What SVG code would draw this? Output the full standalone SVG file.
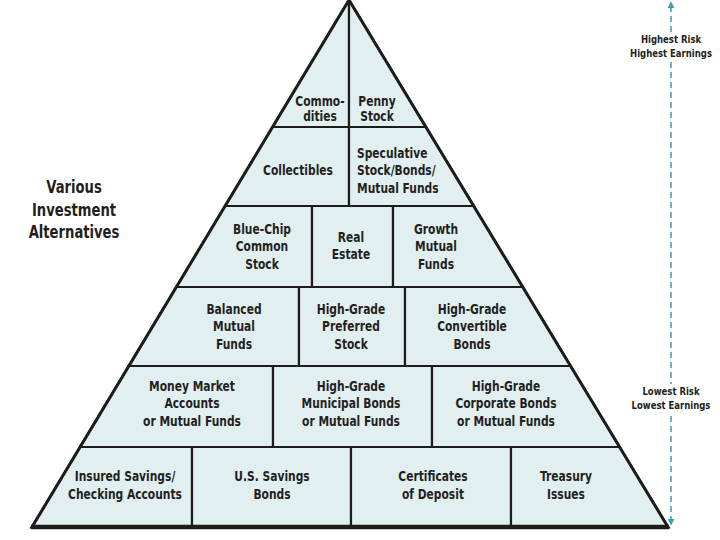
<svg xmlns="http://www.w3.org/2000/svg" width="720" height="540" viewBox="0 0 720 540">
<defs>
<style>
.cell{fill:#e2eff1;stroke:#1c1c1c;stroke-width:2.2;stroke-linejoin:miter}
.t{font-family:"DejaVu Sans Condensed","DejaVu Sans","Liberation Sans",sans-serif;font-stretch:condensed;font-weight:bold;font-size:14px;fill:#231f20;text-anchor:middle}
.big{font-size:17px}
.sm{font-size:11px}
.l{text-anchor:start}
.ax{stroke:#3a9fb4;stroke-width:1.5;stroke-dasharray:6 4;fill:none}
</style>
<marker id="ah" viewBox="0 0 10 10" refX="9" refY="5" markerWidth="7" markerHeight="7" markerUnits="userSpaceOnUse" orient="auto-start-reverse">
<path d="M0,0 L10,5 L0,10 z" fill="#3a9fb4"/>
</marker>
</defs>
<rect width="720" height="540" fill="#ffffff"/>

<g id="n-commodities"><polygon class="cell" points="349,0 272.6,127 349,127"/><g transform="translate(320,0) scale(0.85,1)"><text class="t" x="0" y="106">Commo-</text><text class="t" x="0" y="121">dities</text></g></g>
<g id="n-penny"><polygon class="cell" points="349,0 349,127 425.9,127"/><g transform="translate(377,0) scale(0.85,1)"><text class="t" x="0" y="106">Penny</text><text class="t" x="0" y="121">Stock</text></g></g>

<g id="n-collectibles"><polygon class="cell" points="272.6,127 349,127 349,206 225.1,206"/><g transform="translate(298,0) scale(0.85,1)"><text class="t" x="0" y="175">Collectibles</text></g></g>
<g id="n-speculative"><polygon class="cell" points="349,127 425.9,127 473.7,206 349,206"/><g transform="translate(357,0) scale(0.85,1)"><text class="t l" x="0" y="158">Speculative</text><text class="t l" x="0" y="175.5">Stock/Bonds/</text><text class="t l" x="0" y="193">Mutual Funds</text></g></g>

<g id="n-bluechip"><polygon class="cell" points="225.1,206 312,206 312,287 176.4,287"/><g transform="translate(262,0) scale(0.85,1)"><text class="t" x="0" y="234">Blue-Chip</text><text class="t" x="0" y="251.5">Common</text><text class="t" x="0" y="269">Stock</text></g></g>
<g id="n-realestate"><polygon class="cell" points="312,206 393,206 393,287 312,287"/><g transform="translate(351,0) scale(0.85,1)"><text class="t" x="0" y="242">Real</text><text class="t" x="0" y="259.5">Estate</text></g></g>
<g id="n-growth"><polygon class="cell" points="393,206 473.7,206 522.7,287 393,287"/><g transform="translate(436,0) scale(0.85,1)"><text class="t" x="0" y="234">Growth</text><text class="t" x="0" y="251.5">Mutual</text><text class="t" x="0" y="269">Funds</text></g></g>

<g id="n-balanced"><polygon class="cell" points="176.4,287 299,287 299,366 128.8,366"/><g transform="translate(234,0) scale(0.85,1)"><text class="t" x="0" y="314">Balanced</text><text class="t" x="0" y="331.5">Mutual</text><text class="t" x="0" y="349">Funds</text></g></g>
<g id="n-preferred"><polygon class="cell" points="299,287 405,287 405,366 299,366"/><g transform="translate(351,0) scale(0.85,1)"><text class="t" x="0" y="314">High-Grade</text><text class="t" x="0" y="331.5">Preferred</text><text class="t" x="0" y="349">Stock</text></g></g>
<g id="n-convertible"><polygon class="cell" points="405,287 522.7,287 570.5,366 405,366"/><g transform="translate(472,0) scale(0.85,1)"><text class="t" x="0" y="314">High-Grade</text><text class="t" x="0" y="331.5">Convertible</text><text class="t" x="0" y="349">Bonds</text></g></g>

<g id="n-moneymarket"><polygon class="cell" points="128.8,366 273,366 273,447 80.1,447"/><g transform="translate(192,0) scale(0.85,1)"><text class="t" x="0" y="391">Money Market</text><text class="t" x="0" y="408.5">Accounts</text><text class="t" x="0" y="426">or Mutual Funds</text></g></g>
<g id="n-municipal"><polygon class="cell" points="273,366 432,366 432,447 273,447"/><g transform="translate(351,0) scale(0.85,1)"><text class="t" x="0" y="391">High-Grade</text><text class="t" x="0" y="408.5">Municipal Bonds</text><text class="t" x="0" y="426">or Mutual Funds</text></g></g>
<g id="n-corporate"><polygon class="cell" points="432,366 570.5,366 619.6,447 432,447"/><g transform="translate(506,0) scale(0.85,1)"><text class="t" x="0" y="391">High-Grade</text><text class="t" x="0" y="408.5">Corporate Bonds</text><text class="t" x="0" y="426">or Mutual Funds</text></g></g>

<g id="n-insured"><polygon class="cell" points="80.1,447 192,447 192,527 32,527"/><g transform="translate(125,0) scale(0.85,1)"><text class="t" x="0" y="481">Insured Savings/</text><text class="t" x="0" y="499">Checking Accounts</text></g></g>
<g id="n-savingsbonds"><polygon class="cell" points="192,447 351,447 351,527 192,527"/><g transform="translate(272,0) scale(0.85,1)"><text class="t" x="0" y="481">U.S. Savings</text><text class="t" x="0" y="499">Bonds</text></g></g>
<g id="n-cd"><polygon class="cell" points="351,447 511,447 511,527 351,527"/><g transform="translate(433,0) scale(0.85,1)"><text class="t" x="0" y="481">Certificates</text><text class="t" x="0" y="499">of Deposit</text></g></g>
<g id="n-treasury"><polygon class="cell" points="511,447 619.6,447 668,527 511,527"/><g transform="translate(566,0) scale(0.85,1)"><text class="t" x="0" y="481">Treasury</text><text class="t" x="0" y="499">Issues</text></g></g>

<g id="outline">
<polygon points="349,0 32,527 668,527" fill="none" stroke="#1c1c1c" stroke-width="3" stroke-linejoin="miter" stroke-miterlimit="10"/>
<line x1="31" y1="527" x2="669" y2="527" stroke="#1c1c1c" stroke-width="4.5"/>
</g>

<g id="title" transform="translate(74,0) scale(0.86,1)"><text class="t big" x="0" y="193">Various</text><text class="t big" x="0" y="216">Investment</text><text class="t big" x="0" y="238">Alternatives</text></g>

<g id="connectors">
<line class="ax" x1="671" y1="32" x2="671" y2="2" marker-end="url(#ah)"/>
<line class="ax" x1="671" y1="62" x2="671" y2="384"/>
<line class="ax" x1="671" y1="416" x2="671" y2="525" marker-end="url(#ah)"/>
</g>
<g id="scale-labels" transform="translate(671,0) scale(0.86,1)">
<text class="t sm" x="0" y="43">Highest Risk</text><text class="t sm" x="0" y="57">Highest Earnings</text>
<text class="t sm" x="0" y="395">Lowest Risk</text><text class="t sm" x="0" y="409">Lowest Earnings</text>
</g>
</svg>
